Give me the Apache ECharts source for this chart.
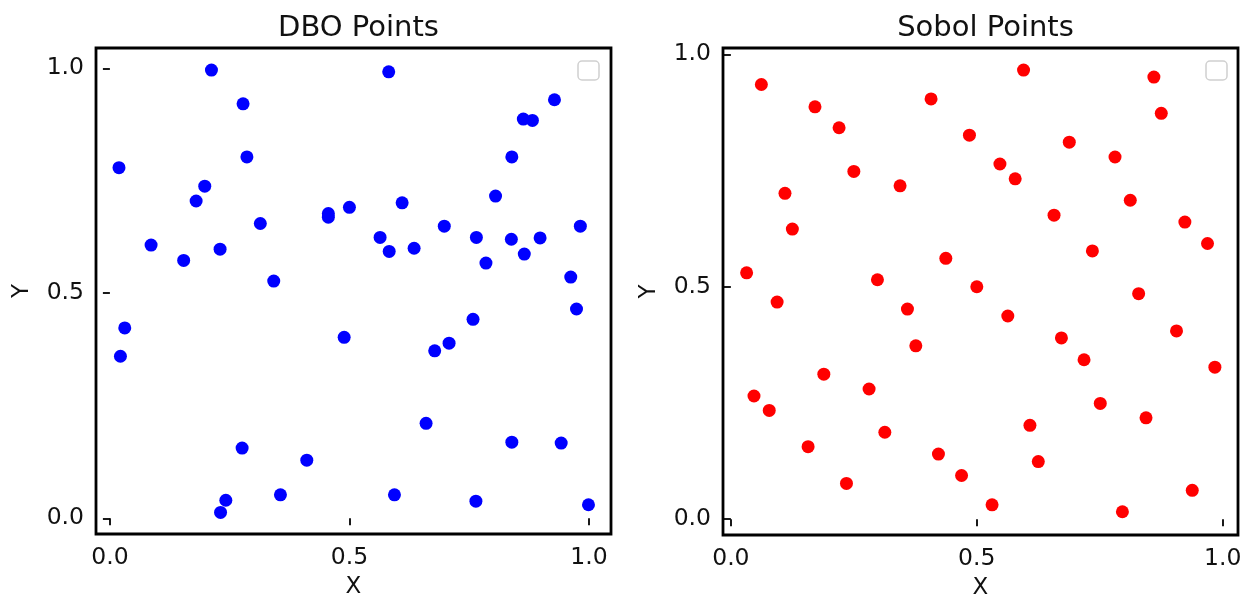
<!DOCTYPE html>
<html>
<head>
<meta charset="utf-8">
<script src="https://cdn.jsdelivr.net/npm/echarts@6/dist/echarts.min.js"></script>
<style>
html,body{margin:0;padding:0;background:#fff;}
#chart{width:1254px;height:598px;}
</style>
</head>
<body>
<div id="chart"></div>
<script>
// ---- Data ----
const dboX = [0.212,0.582,0.278,0.286,0.019,0.198,0.180,0.314,0.456,0.456,0.500,0.610,0.564,0.583,0.635,0.086,0.154,0.230,0.342,
  0.928,0.863,0.882,0.839,0.805,0.698,0.765,0.838,0.898,0.785,0.865,0.982,0.962,
  0.031,0.022,0.489,0.276,0.411,0.242,0.231,0.356,0.594,
  0.758,0.708,0.678,0.974,0.660,0.839,0.942,0.764,0.999];
const dboY = [0.996,0.992,0.921,0.803,0.779,0.738,0.705,0.655,0.677,0.669,0.691,0.701,0.624,0.593,0.600,0.607,0.573,0.598,0.527,
  0.930,0.887,0.884,0.803,0.716,0.649,0.624,0.620,0.623,0.567,0.587,0.649,0.536,
  0.423,0.360,0.402,0.156,0.129,0.040,0.013,0.052,0.052,
  0.442,0.389,0.372,0.465,0.211,0.169,0.167,0.038,0.030];
const sobolX = [0.062,0.171,0.110,0.125,0.032,
  0.595,0.860,0.407,0.875,0.220,0.485,0.688,0.781,0.547,0.578,0.250,0.344,0.812,0.657,0.923,0.969,0.735,0.437,0.298,0.500,0.829,
  0.359,0.563,0.906,0.376,0.672,0.718,0.984,0.189,0.281,0.751,0.844,0.608,0.313,0.625,0.422,0.469,0.235,0.531,0.938,0.796,
  0.094,0.047,0.078,0.157];
const sobolY = [0.935,0.887,0.701,0.624,0.530,
  0.966,0.951,0.904,0.873,0.842,0.826,0.811,0.779,0.764,0.732,0.748,0.717,0.686,0.654,0.639,0.593,0.577,0.561,0.515,0.500,0.485,
  0.452,0.437,0.405,0.373,0.390,0.343,0.327,0.312,0.280,0.249,0.218,0.202,0.187,0.124,0.140,0.094,0.077,0.031,0.062,0.016,
  0.467,0.265,0.234,0.156];
const tickValues = [0, 0.5, 1.0];
const titles = ['DBO Points', 'Sobol Points'];
const xName = 'X', yName = 'Y';

// ---- Chart ----
const FONT = 'DejaVu Sans';
const chart = echarts.init(document.getElementById('chart'), null, {renderer: 'canvas'});
const pairs = (xs, ys) => xs.map((x, i) => [x, ys[i]]);

const grids = [
  {left: 96, right: 643, top: 48, bottom: 64},
  {left: 723, right: 16, top: 48, bottom: 63}
];
const xRanges = [[-0.029, 1.046], [-0.016, 1.031]];
const yRanges = [[-0.035, 1.045], [-0.034, 1.0135]];

function axisCommon(range, idx, isX) {
  return {
    type: 'value', gridIndex: idx, min: range[0], max: range[1],
    name: isX ? xName : yName, nameLocation: 'middle',
    nameGap: isX ? 42 : 62,
    nameRotate: isX ? 0 : 90,
    nameTextStyle: {fontFamily: FONT, fontSize: 23, color: '#111'},
    splitLine: {show: false},
    axisLine: {show: false},
    axisTick: {show: true, inside: false, length: 7, customValues: tickValues,
      lineStyle: {color: '#000', width: 1.8}},
    axisLabel: {show: true, customValues: tickValues, margin: isX ? 12 : 12,
      fontFamily: FONT, fontSize: 23.5, color: '#111',
      formatter: v => Number(v).toFixed(1)}
  };
}

const legendBoxes = [
  {x: 578, y: 61}, {x: 1206, y: 61}
].map(p => ({
  type: 'rect', shape: {x: p.x, y: p.y, width: 21, height: 19, r: 4},
  style: {fill: '#fff', stroke: '#d0d0d0', lineWidth: 1.5}, z: 10
}));

chart.setOption({
  animation: false,
  backgroundColor: '#fff',
  title: [
    {text: titles[0], left: 353.5, top: 9, textAlign: 'center',
     textStyle: {fontFamily: FONT, fontSize: 29, fontWeight: 'normal', color: '#111'}},
    {text: titles[1], left: 980.5, top: 9, textAlign: 'center',
     textStyle: {fontFamily: FONT, fontSize: 29, fontWeight: 'normal', color: '#111'}}
  ],
  grid: grids.map(g => Object.assign({show: true, borderColor: '#000', borderWidth: 2.8,
    backgroundColor: '#fff', containLabel: false, outerBoundsMode: 'none'}, g)),
  xAxis: [axisCommon(xRanges[0], 0, true), axisCommon(xRanges[1], 1, true)],
  yAxis: [axisCommon(yRanges[0], 0, false), axisCommon(yRanges[1], 1, false)],
  series: [
    {type: 'scatter', xAxisIndex: 0, yAxisIndex: 0, data: pairs(dboX, dboY),
     symbolSize: 13, itemStyle: {color: '#0000ff', opacity: 1}},
    {type: 'scatter', xAxisIndex: 1, yAxisIndex: 1, data: pairs(sobolX, sobolY),
     symbolSize: 13, itemStyle: {color: '#ff0000', opacity: 1}}
  ],
  graphic: legendBoxes
});
</script>
</body>
</html>
